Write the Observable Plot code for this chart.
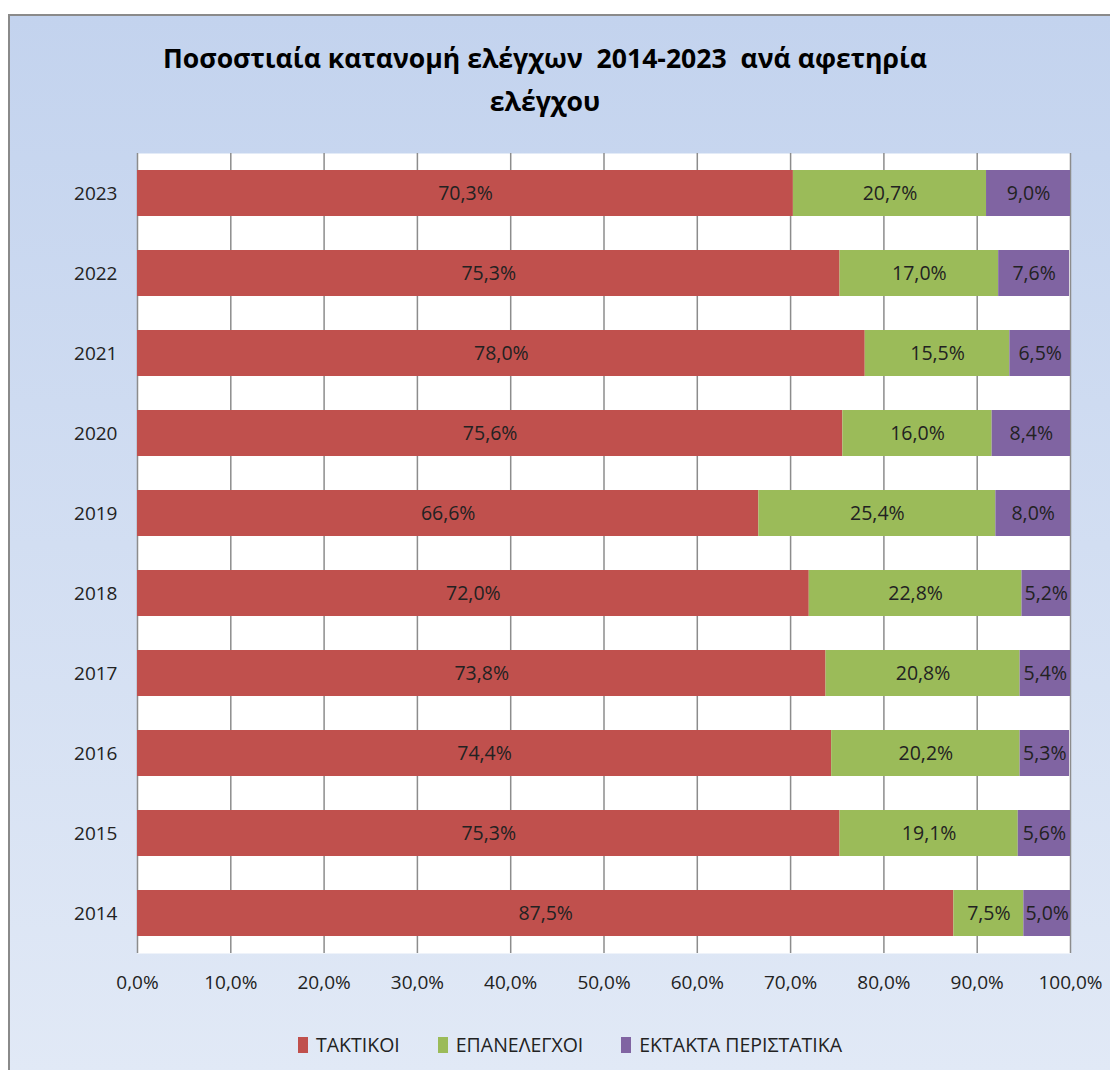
<!DOCTYPE html>
<html>
<head>
<meta charset="utf-8">
<script src="https://cdn.jsdelivr.net/npm/d3@7"></script>
<script src="https://cdn.jsdelivr.net/npm/@observablehq/plot@0.6"></script>
<style>
  html, body { margin: 0; padding: 0; background: #fff; }
  #wrap { position: relative; width: 1110px; height: 1070px; overflow: hidden; font-family: "Open Sans", sans-serif; }
  #frame { position: absolute; left: 8px; top: 14px; width: 1110px; height: 1060px; border: 2px solid #8a8a8a;
           background: linear-gradient(to bottom, #c3d3ee 0%, #d2def2 50%, #e1e9f6 100%); box-sizing: border-box; }
  #title { position: absolute; left: 0; width: 1090px; top: 37px; text-align: center;
           font-family: "Open Sans", sans-serif; font-weight: bold;
           font-size: 26.6px; line-height: 43px; color: #000; }
  #chart { position: absolute; left: 0; top: 0; }
  #legend { position: absolute; top: 1031px; left: 0; width: 1140px; display: flex; justify-content: center; gap: 38px;
            font-family: "Open Sans", sans-serif; font-size: 19.5px; color: #222; }
  .item { display: flex; align-items: center; }
  .sw { width: 10px; height: 16px; margin-right: 8px; }
</style>
</head>
<body>
<div id="wrap">
  <div id="frame"></div>
  <div id="title">Ποσοστιαία κατανομή ελέγχων&nbsp; 2014-2023&nbsp; ανά αφετηρία<br>ελέγχου</div>
  <div id="chart"></div>
  <div id="legend"></div>
</div>
<script>
const years = ["2023","2022","2021","2020","2019","2018","2017","2016","2015","2014"];
const seriesNames = ["ΤΑΚΤΙΚΟΙ", "ΕΠΑΝΕΛΕΓΧΟΙ", "ΕΚΤΑΚΤΑ ΠΕΡΙΣΤΑΤΙΚΑ"];
const taktikoi    = [70.3, 75.3, 78.0, 75.6, 66.6, 72.0, 73.8, 74.4, 75.3, 87.5];
const epanelegxoi = [20.7, 17.0, 15.5, 16.0, 25.4, 22.8, 20.8, 20.2, 19.1, 7.5];
const ektakta     = [9.0, 7.6, 6.5, 8.4, 8.0, 5.2, 5.4, 5.3, 5.6, 5.0];
const xTicks = [0, 10, 20, 30, 40, 50, 60, 70, 80, 90, 100];
const colors = ["#c0504d", "#9bbb59", "#8064a2"];

const fmt = v => v.toFixed(1).replace(".", ",") + "%";

const data = [];
[taktikoi, epanelegxoi, ektakta].forEach((arr, si) => {
  arr.forEach((v, i) => data.push({year: years[i], series: seriesNames[si], value: v}));
});

const chart = Plot.plot({
  width: 1110,
  height: 1070,
  marginLeft: 137,
  marginRight: 40,
  marginTop: 153,
  marginBottom: 117,
  style: {background: "transparent", fontFamily: "Open Sans, sans-serif", fontSize: "20px", color: "#222"},
  x: {domain: [0, 100], ticks: xTicks, tickFormat: fmt, label: null},
  y: {domain: years, paddingInner: 0.42, paddingOuter: 0.21, label: null},
  color: {domain: seriesNames, range: colors},
  marks: [
    Plot.frame({fill: "white", stroke: null}),
    Plot.ruleX(xTicks, {stroke: "#8c8c8c", strokeWidth: 1.5, strokeOpacity: 1}),
    Plot.barX(data, Plot.stackX({x: "value", y: "year", fill: "series", order: seriesNames, inset: 0})),
    Plot.text(data, Plot.stackX({x: "value", y: "year", z: "series", order: seriesNames, text: d => fmt(d.value), fill: "#222", fontSize: 19.5})),
    Plot.axisX({ticks: xTicks, tickFormat: fmt, tickSize: 0, tickPadding: 22, fontSize: 19, label: null}),
    Plot.axisY({tickSize: 0, tickPadding: 20, fontSize: 19, label: null})
  ]
});
document.getElementById("chart").appendChild(chart);

const legend = document.getElementById("legend");
seriesNames.forEach((n, i) => {
  const it = document.createElement("div");
  it.className = "item";
  const sw = document.createElement("div");
  sw.className = "sw";
  sw.style.background = colors[i];
  const t = document.createElement("span");
  t.textContent = n;
  it.appendChild(sw); it.appendChild(t);
  legend.appendChild(it);
});
</script>
</body>
</html>
